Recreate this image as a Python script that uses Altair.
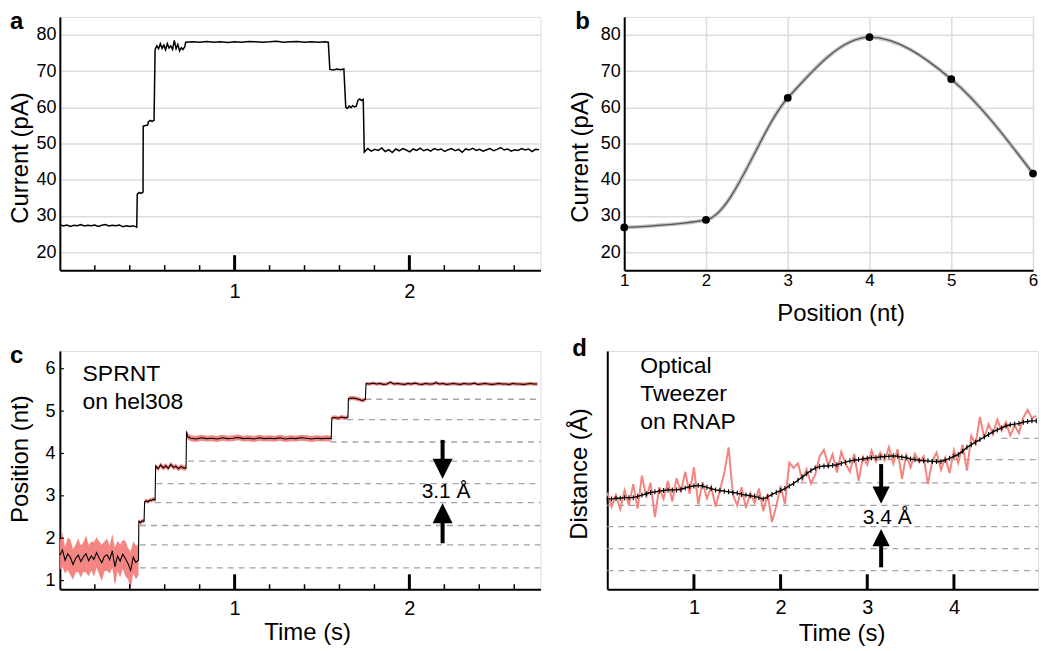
import altair as alt
import pandas as pd

FONT = "Liberation Sans"
RED = "#f27f7b"
GRID = "#dcdcdc"
DASH = "#a3a3a3"

# ---------------- Panel a: current trace (time s, current pA) ----------------
a_segments = [
    (0.000, 0.020, [27.6, 27.2, 27.5, 27.1, 27.4, 27.3, 27.6, 27.2, 27.4, 27.3, 27.5, 27.1,
                    27.4, 27.6, 27.2, 27.4, 27.3, 27.5, 27.0, 27.3, 27.1, 27.3, 26.9]),
    (0.443, 0.011, [36.0, 36.5, 36.2, 36.6]),
    (0.477, 0.013, [54.8, 55.0, 55.1]),
    (0.506, 0.011, [56.0, 56.4, 56.1, 56.4]),
    (0.545, 0.010, [76.0, 77.0, 76.2, 77.6, 76.3, 77.2, 75.9, 77.6, 76.4, 77.0, 76.0, 78.5,
                    76.2, 77.4, 75.6, 76.5, 76.0, 76.8]),
    (0.720, 0.040, [78.0, 78.1, 78.0, 78.2, 78.0, 78.1, 77.9, 78.1, 78.0, 78.2, 78.1, 78.0,
                    78.1, 78.3, 78.0, 78.1, 78.2, 78.0, 78.1, 78.0, 78.1]),
    (1.536, 0.000, [78.0]),
    (1.545, 0.020, [70.5, 70.3, 70.6, 70.4, 70.6]),
    (1.636, 0.010, [60.0, 59.7, 60.4, 59.9, 60.5, 60.1, 60.3]),
    (1.706, 0.010, [62.0, 62.3, 61.9, 62.2]),
    (1.742, 0.020, [47.6, 48.6, 47.9, 48.4, 48.1, 48.8, 47.8, 48.3, 47.5, 48.5, 48.0, 48.6,
                    48.2, 47.7, 48.5, 48.1, 48.7, 48.0, 48.4, 47.9, 48.6, 48.2, 48.5, 47.8,
                    48.3, 48.6, 48.0, 48.4, 47.6, 48.5, 48.2, 48.7, 48.1, 48.4, 47.9, 48.3,
                    48.6, 48.0, 48.4, 48.9, 48.2, 48.5, 47.9, 48.3, 48.1, 48.6, 48.2, 48.5,
                    47.8, 48.4, 48.3]),
]

# ---------------- Panel b: current vs position ----------------
b_pos = [1, 2, 3, 4, 5, 6]
b_cur = [26.8, 28.9, 62.6, 79.4, 67.8, 41.7]

# ---------------- Panel c: SPRNT position trace (time s, position nt, band half-width) ----------------
c_segments = [
    (0.000, 0.015,
     [1.60, 1.72, 1.48, 1.63, 1.55, 1.38, 1.52, 1.60, 1.45, 1.56, 1.63, 1.47, 1.58, 1.50,
      1.66, 1.53, 1.42, 1.57, 1.61, 1.49, 1.70, 1.33, 1.58, 1.46, 1.62, 1.52, 1.40, 1.24,
      1.55, 1.43, 1.48],
     [0.35, 0.40, 0.32, 0.38, 0.42, 0.36, 0.33, 0.40, 0.38, 0.35, 0.44, 0.37, 0.34, 0.41,
      0.36, 0.39, 0.43, 0.35, 0.38, 0.33, 0.40, 0.45, 0.36, 0.39, 0.34, 0.42, 0.37, 0.45,
      0.38, 0.40, 0.36]),
    (0.452, 0.010, [2.40, 2.37, 2.41, 2.40], 0.05),
    (0.485, 0.010, [2.86, 2.88, 2.86, 2.90, 2.89, 2.92, 2.90], 0.05),
    (0.548, 0.0145, [3.70, 3.64, 3.73, 3.66, 3.71, 3.65, 3.74, 3.67, 3.70, 3.64, 3.69, 3.66, 3.65], 0.06),
    (0.725, 0.005, [4.52, 4.40], 0.07),
    (0.750, 0.030, [4.36, 4.34, 4.37, 4.35, 4.36, 4.34, 4.37, 4.35, 4.36, 4.38,
                    4.35, 4.36, 4.34, 4.37, 4.35, 4.36, 4.35, 4.37, 4.34, 4.36,
                    4.35, 4.37, 4.36, 4.34, 4.36, 4.35, 4.36], 0.07),
    (1.553, 0.000, [4.35], 0.07),
    (1.556, 0.0185, [4.84, 4.85, 4.83, 4.86, 4.84, 4.85], 0.05),
    (1.651, 0.0194, [5.29, 5.31, 5.30, 5.28, 5.25, 5.27], 0.05),
    (1.752, 0.020, [5.65, 5.64, 5.66, 5.64, 5.65, 5.63, 5.64, 5.68, 5.64, 5.65,
                    5.64, 5.63, 5.65, 5.64, 5.66, 5.64, 5.63, 5.65, 5.64, 5.64,
                    5.67, 5.64, 5.65, 5.63, 5.64, 5.65, 5.64, 5.63, 5.65, 5.64,
                    5.64, 5.66, 5.63, 5.64, 5.65, 5.64, 5.63, 5.64, 5.65, 5.64,
                    5.64, 5.63, 5.65, 5.64, 5.64, 5.63, 5.64, 5.65, 5.64, 5.64], 0.04),
]
c_dash_level = [1.30, 1.84, 2.30, 2.84, 3.29, 3.82, 4.27, 4.80, 5.28]
c_dash_start = [0.458, 0.458, 0.458, 0.544, 0.553, 0.733, 1.549, 1.644, 1.748]

# ---------------- Panel d: optical tweezer (time s, distance Å) ----------------
d_t0, d_dt = 0.0, 0.05
d_smooth = [14.0, 14.0, 14.1, 14.1, 14.2, 14.2, 14.2, 14.4, 14.6, 14.8,
            15.0, 15.1, 15.2, 15.3, 15.4, 15.4, 15.4, 15.5, 15.7, 15.9,
            16.0, 16.1, 16.0, 15.8, 15.6, 15.4, 15.3, 15.2, 15.1, 15.0,
            14.9, 14.7, 14.6, 14.5, 14.4, 14.2, 14.0, 14.3, 14.7, 15.0,
            15.3, 15.6, 16.0, 16.4, 16.9, 17.4, 17.9, 18.4, 18.8, 19.0,
            19.1, 19.1, 19.2, 19.3, 19.5, 19.7, 19.9, 20.0, 20.1, 20.2,
            20.3, 20.4, 20.4, 20.5, 20.6, 20.6, 20.7, 20.6, 20.5, 20.4,
            20.2, 20.1, 20.0, 19.9, 19.9, 19.8, 19.8, 19.8, 20.0, 20.3,
            20.6, 20.9, 21.4, 22.0, 22.4, 22.8, 23.2, 23.6, 24.0, 24.4,
            24.7, 25.0, 25.3, 25.5, 25.6, 25.7, 25.9, 26.0, 26.1, 26.1]
d_raw = [15.0, 12.8, 14.6, 12.4, 15.3, 13.0, 16.3, 12.5, 17.6, 14.2,
         16.5, 11.2, 15.8, 14.0, 16.8, 13.6, 17.2, 15.0, 18.2, 14.8,
         18.9, 13.2, 16.6, 14.1, 15.9, 12.8, 15.4, 18.0, 22.0, 14.6,
         13.0, 15.8, 12.6, 14.9, 13.4, 15.6, 12.1, 14.8, 10.4, 12.9,
         16.0, 13.2, 19.6, 18.8, 19.5, 17.0, 18.6, 16.4, 17.8, 20.6,
         21.6, 19.2, 20.9, 18.1, 21.3, 19.4, 18.2, 21.0, 16.8, 20.5,
         19.3, 21.5, 19.8, 21.2, 20.0, 22.0, 19.5, 21.7, 17.1, 20.8,
         18.9, 21.0, 19.7, 20.6, 16.3, 19.9, 21.2, 18.5, 20.4, 18.0,
         21.6, 19.6, 22.4, 18.4, 23.8, 22.5, 26.7, 23.4, 25.6, 24.0,
         26.3, 24.6, 25.9, 23.8, 25.4, 24.2, 26.6, 27.8, 26.5, 26.9]
d_dash_level = [2.9, 6.3, 9.7, 13.0, 16.5, 20.1, 23.4]
d_dash_start = [0.0, 0.0, 0.0, 0.0, 2.23, 2.85, 4.55]

minor_ticks_ac = [0.2, 0.4, 0.6, 0.8, 1.2, 1.4, 1.6, 1.8, 2.2, 2.4, 2.6]
major_ticks_ac = [1, 2]
major_ticks_d = [1, 2, 3, 4]

ARROW_DOWN = "M-1,-1L1,-1L0,1Z"
ARROW_UP = "M-1,1L1,1L0,-1Z"


def build(segs, with_hw=False):
    rows = []
    for seg in segs:
        t0, dt, vals = seg[0], seg[1], seg[2]
        for i, v in enumerate(vals):
            row = {"t": round(t0 + i * dt, 4), "v": v}
            if with_hw:
                hw = seg[3][i] if isinstance(seg[3], list) else seg[3]
                row["lo"] = v - hw
                row["hi"] = v + hw
            rows.append(row)
    return pd.DataFrame(rows)


def x_axis(values, size, pad, title=None, tx=None, ty=None, grid=False):
    d = dict(values=values, format="d", ticks=False, tickSize=0, domainColor="black",
             domainWidth=2, labelFontSize=size, labelColor="black", labelFont=FONT,
             labelPadding=pad, labelFlush=False, grid=grid, gridColor=GRID, gridWidth=1.5)
    if title:
        d.update(title=title, titleFontSize=24, titleFontWeight="normal", titleColor="black",
                 titleFont=FONT, titleX=tx, titleY=ty, titleBaseline="alphabetic",
                 titleAlign="center", titleAngle=0)
    else:
        d["title"] = None
    return alt.Axis(**d)


def y_axis(values, size, pad, title, tx, ty, grid=False, labels=True):
    d = dict(ticks=False, tickSize=0, domainColor="black", domainWidth=2,
             labelFontSize=size, labelColor="black", labelFont=FONT, labelPadding=pad,
             grid=grid, gridColor=GRID, gridWidth=1.5, labels=labels,
             title=title, titleFontSize=24, titleFontWeight="normal", titleColor="black",
             titleFont=FONT, titleX=tx, titleY=ty, titleAngle=270, titleBaseline="bottom",
             titleAlign="center")
    if values is not None:
        d["values"] = values
        d["format"] = "d"
    else:
        d["values"] = []
    return alt.Axis(**d)


def letter(ch, x, y):
    return alt.Chart(pd.DataFrame({"s": [ch]})).mark_text(
        fontSize=24, fontWeight="bold", font=FONT, align="left", baseline="top", color="black"
    ).encode(x=alt.value(x), y=alt.value(y), text="s:N")


def tick_rules(X, vals, h, length, width):
    return alt.Chart(pd.DataFrame({"t": vals})).mark_rule(
        color="black", strokeWidth=width).encode(x=X, y=alt.value(h), y2=alt.value(h - length))


# ======================= Panel a =======================
WA, HA = 482, 254
a_df = build(a_segments)
sXa = alt.Scale(domain=[0, 2.75], nice=False, zero=False)
sYa = alt.Scale(domain=[15, 85], nice=False, zero=False)
Xa = alt.X("t:Q", scale=sXa, axis=x_axis([1, 2], 20, 11))
Ya = alt.Y("v:Q", scale=sYa,
           axis=y_axis([20, 30, 40, 50, 60, 70, 80], 18, 4, "Current (pA)", -27, 141, grid=True))
pa = alt.layer(
    alt.Chart(a_df).mark_line(color="black", strokeWidth=1.5).encode(x=Xa, y=Ya),
    tick_rules(Xa, major_ticks_ac, HA, 15, 3),
    tick_rules(Xa, minor_ticks_ac, HA, 5, 1.5),
    letter("a", -50, -7),
).properties(width=WA, height=HA)

# ======================= Panel b =======================
WB, HB = 410, 254
b_df = pd.DataFrame({"t": b_pos, "v": b_cur})
Xb = alt.X("t:Q", scale=alt.Scale(domain=[1, 6], nice=False, zero=False),
           axis=x_axis([1, 2, 3, 4, 5, 6], 17, 2, "Position (nt)", 217, 50, grid=True))
Yb = alt.Y("v:Q", scale=alt.Scale(domain=[15, 85], nice=False, zero=False),
           axis=y_axis([20, 30, 40, 50, 60, 70, 80], 18, 4, "Current (pA)", -32, 140, grid=True))
pb = alt.layer(
    alt.Chart(b_df).mark_line(color="#c4c4c4", strokeWidth=4, interpolate="monotone").encode(x=Xb, y=Yb),
    alt.Chart(b_df).mark_line(color="#555555", strokeWidth=1.3, interpolate="monotone").encode(x=Xb, y=Yb),
    alt.Chart(b_df).mark_circle(color="black", size=60, opacity=1).encode(x=Xb, y=Yb),
    letter("b", -49, -7),
).properties(width=WB, height=HB)

# ======================= Panel c =======================
WC, HC = 482, 239
c_df = build(c_segments, with_hw=True)
sXc = alt.Scale(domain=[0, 2.75], nice=False, zero=False)
sYc = alt.Scale(domain=[0.795, 6.42], nice=False, zero=False)
axYc = y_axis([1, 2, 3, 4, 5, 6], 18, 5, "Position (nt)", -27, 108)
Xc = alt.X("t:Q", scale=sXc, axis=x_axis([1, 2], 20, 9, "Time (s)", 248, 50))
Yc = alt.Y("v:Q", scale=sYc, axis=axYc)
c_dash = pd.DataFrame({"t": c_dash_start, "v": c_dash_level})
c_shafts = pd.DataFrame({"t": [2.19, 2.19], "v": [4.32, 1.88], "v2": [3.85, 2.40]})
c_heads = pd.DataFrame({"t": [2.19, 2.19], "v": [3.64, 2.59], "shape": [ARROW_DOWN, ARROW_UP]})
c_text = pd.DataFrame({"t": [0.13, 0.13], "v": [5.70, 5.05], "s": ["SPRNT", "on hel308"]})
c_lbl = pd.DataFrame({"t": [2.21], "v": [2.96], "s": ["3.1 Å"]})
pc = alt.layer(
    alt.Chart(c_dash).mark_rule(color=DASH, strokeDash=[6, 5], strokeWidth=1.3).encode(
        x=Xc, x2=alt.value(WC), y=Yc),
    alt.Chart(c_df).mark_area(color=RED, opacity=0.95).encode(
        x=Xc, y=alt.Y("lo:Q", scale=sYc, axis=axYc), y2="hi:Q"),
    alt.Chart(c_df).mark_line(color="black", strokeWidth=1.1).encode(x=Xc, y=Yc),
    tick_rules(Xc, major_ticks_ac, HC, 15, 3),
    tick_rules(Xc, minor_ticks_ac, HC, 5, 1.5),
    alt.Chart(pd.DataFrame({"v": [1, 2, 3, 4, 5, 6]})).mark_rule(color="black", strokeWidth=1.2).encode(
        y=Yc, x=alt.value(0), x2=alt.value(4)),
    alt.Chart(c_shafts).mark_rule(color="black", strokeWidth=4).encode(x=Xc, y=Yc, y2="v2:Q"),
    alt.Chart(c_heads).mark_point(filled=True, color="black", opacity=1, size=400, strokeWidth=0).encode(
        x=Xc, y=Yc, shape=alt.Shape("shape:N", scale=None)),
    alt.Chart(c_text).mark_text(fontSize=23, font=FONT, align="left", baseline="alphabetic", color="black").encode(
        x=Xc, y=Yc, text="s:N"),
    alt.Chart(c_lbl).mark_text(fontSize=21, font=FONT, align="center", baseline="alphabetic", color="black").encode(
        x=Xc, y=Yc, text="s:N"),
    letter("c", -50, -7),
).properties(width=WC, height=HC)

# ======================= Panel d =======================
WD, HD = 432, 239
d_df = pd.DataFrame({"t": [round(d_t0 + i * d_dt, 3) for i in range(len(d_smooth))],
                     "v": d_smooth, "raw": d_raw})
sXd = alt.Scale(domain=[0, 4.97], nice=False, zero=False)
sYd = alt.Scale(domain=[0, 36.94], nice=False, zero=False)
axYd = y_axis(None, 17, 4, "Distance (Å)", -16, 123, labels=False)
Xd = alt.X("t:Q", scale=sXd, axis=x_axis([1, 2, 3, 4], 20, 8, "Time (s)", 235, 51))
Yd = alt.Y("v:Q", scale=sYd, axis=axYd)
d_dash = pd.DataFrame({"t": d_dash_start, "v": d_dash_level})
d_shafts = pd.DataFrame({"t": [3.16, 3.16], "v": [19.4, 3.4], "v2": [15.5, 7.0]})
d_heads = pd.DataFrame({"t": [3.16, 3.16], "v": [14.6, 8.0], "shape": [ARROW_DOWN, ARROW_UP]})
d_text = pd.DataFrame({"t": [0.38, 0.38, 0.38], "v": [33.5, 29.2, 24.9],
                       "s": ["Optical", "Tweezer", "on RNAP"]})
d_lbl = pd.DataFrame({"t": [3.23], "v": [10.1], "s": ["3.4 Å"]})
pdd = alt.layer(
    alt.Chart(d_dash).mark_rule(color=DASH, strokeDash=[6, 5], strokeWidth=1.3).encode(
        x=Xd, x2=alt.value(WD), y=Yd),
    alt.Chart(d_df).mark_line(color="#f4857e", strokeWidth=2).encode(
        x=Xd, y=alt.Y("raw:Q", scale=sYd, axis=axYd)),
    alt.Chart(d_df).mark_line(color="black", strokeWidth=1.4).encode(x=Xd, y=Yd),
    alt.Chart(d_df).mark_point(shape="M0,-1L0,1", size=25, color="black", strokeWidth=1.1, opacity=1).encode(
        x=Xd, y=Yd),
    tick_rules(Xd, major_ticks_d, HD, 15, 3),
    alt.Chart(d_shafts).mark_rule(color="black", strokeWidth=4).encode(x=Xd, y=Yd, y2="v2:Q"),
    alt.Chart(d_heads).mark_point(filled=True, color="black", opacity=1, size=300, strokeWidth=0).encode(
        x=Xd, y=Yd, shape=alt.Shape("shape:N", scale=None)),
    alt.Chart(d_text).mark_text(fontSize=23, font=FONT, align="left", baseline="alphabetic", color="black").encode(
        x=Xd, y=Yd, text="s:N"),
    alt.Chart(d_lbl).mark_text(fontSize=21, font=FONT, align="center", baseline="alphabetic", color="black").encode(
        x=Xd, y=Yd, text="s:N"),
    letter("d", -35, -14),
).properties(width=WD, height=HD)

row1 = alt.hconcat(pa, pb, spacing=84, bounds="flush")
row2 = alt.hconcat(pc, pdd, spacing=67, bounds="flush")
chart = alt.vconcat(row1, row2, spacing=10).properties(
    padding=0, background="white"
).configure_view(stroke=None).configure(font=FONT)

chart.save("out.html", embed_options={"renderer": "svg", "actions": False})
